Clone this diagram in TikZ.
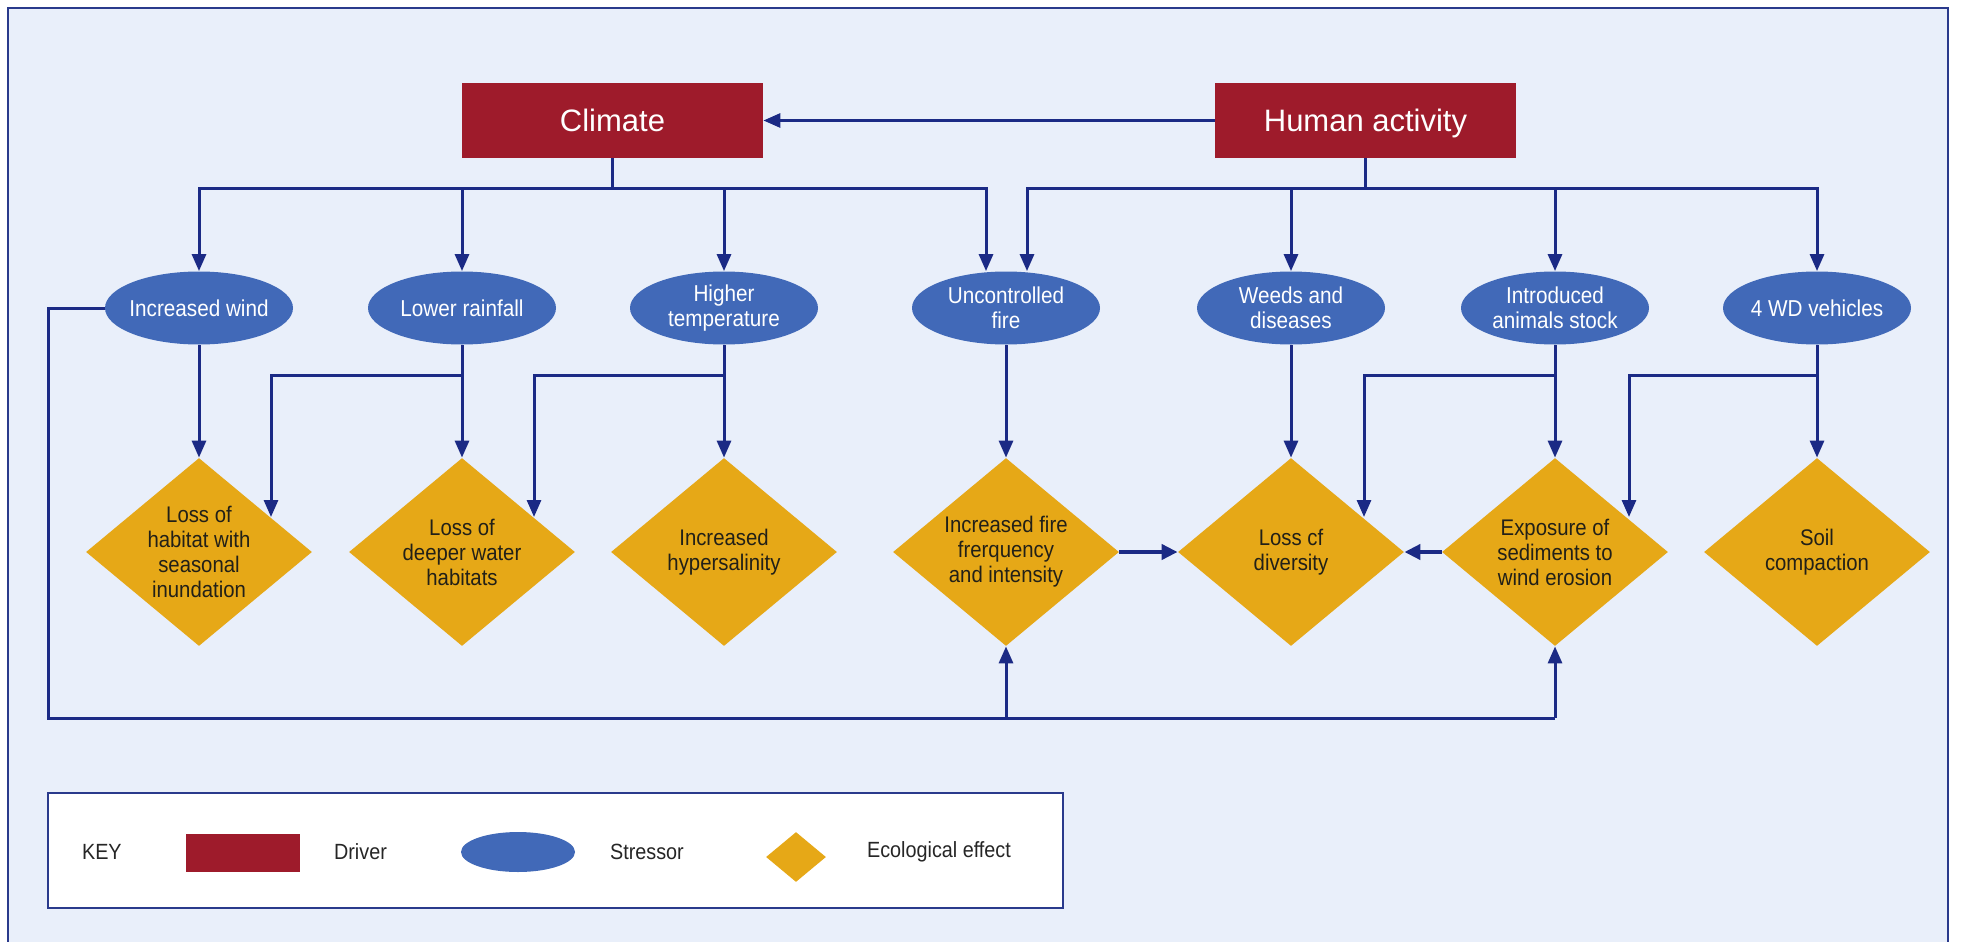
\documentclass[tikz,border=0pt]{standalone}
\usepackage{fontspec}
\setmainfont{Liberation Sans}
\newfontfamily\condfont[FakeStretch=0.9]{Liberation Sans}
\usetikzlibrary{shapes.geometric,arrows.meta}
\definecolor{bgblue}{HTML}{E9EFFA}
\definecolor{navy}{HTML}{1B2A85}
\definecolor{framec}{HTML}{2A3A8C}
\definecolor{drvred}{HTML}{9E1B2B}
\definecolor{strblue}{HTML}{4169B8}
\definecolor{effgold}{HTML}{E6A817}
\definecolor{efftxt}{HTML}{222018}
\tikzset{
  driver/.style={rectangle, fill=drvred, minimum width=150.5pt, minimum height=37.5pt, inner sep=0pt, text=white, text height=11pt, text depth=0pt, font=\fontsize{15.5pt}{18pt}\selectfont},
  stressor/.style={ellipse, fill=strblue, minimum width=94pt, minimum height=36.5pt, inner sep=0pt},
  strtext/.style={text=white, align=center, font=\condfont\fontsize{11.5pt}{12.5pt}\selectfont},
  effect/.style={diamond, fill=effgold, minimum width=113pt, minimum height=94pt, inner sep=0pt},
  efftext/.style={text=efftxt, align=center, font=\condfont\fontsize{11.3pt}{12.5pt}\selectfont},
  conn/.style={draw=navy, line width=1.5pt, -{Triangle[length=8.5pt,width=7pt]}},
  line/.style={draw=navy, line width=1.5pt},
  thickconn/.style={draw=navy, line width=2.3pt, -{Triangle[length=8pt,width=7.5pt]}},
  keytext/.style={anchor=west, text=black!85, font=\condfont\fontsize{11pt}{12pt}\selectfont}
}
\begin{document}
\begin{tikzpicture}[x=0.5pt, y=-0.5pt]
\useasboundingbox (0,0) rectangle (1970,942);
\fill[white] (0,0) rectangle (1970,942);
\draw[draw=framec, line width=1.2pt, fill=bgblue] (8,8) rectangle (1948,990);

% drivers
\node[driver] (climate) at (612.5,120.5) {Climate};
\node[driver] (human) at (1365.5,120.5) {Human activity};

% stressors
\node[stressor] (wind) at (199,308) {};
\node[strtext] at (wind) {Increased wind};
\node[stressor] (rain) at (462,308) {};
\node[strtext] at (rain) {Lower rainfall};
\node[stressor] (temp) at (724,308) {};
\node[strtext] at (temp) {Higher\\temperature};
\node[stressor] (fire) at (1006,308) {};
\node[strtext] at (fire) {Uncontrolled\\fire};
\node[stressor] (weeds) at (1291,308) {};
\node[strtext] at (weeds) {Weeds and\\diseases};
\node[stressor] (animals) at (1555,308) {};
\node[strtext] at (animals) {Introduced\\animals stock};
\node[stressor] (wd) at (1817,308) {};
\node[strtext] at (wd) {4 WD vehicles};

% effects
\node[effect] (habitat) at (199,552) {};
\node[efftext] at (habitat) {Loss of\\habitat with\\seasonal\\inundation};
\node[effect] (deeper) at (462,552) {};
\node[efftext] at (deeper) {Loss of\\deeper water\\habitats};
\node[effect] (saline) at (724,552) {};
\node[efftext] at (saline) {Increased\\hypersalinity};
\node[effect] (firefreq) at (1006,552) {};
\node[efftext] at (firefreq) {Increased fire\\frerquency\\and intensity};
\node[effect] (divers) at (1291,552) {};
\node[efftext] at (divers) {Loss cf\\diversity};
\node[effect] (expo) at (1555,552) {};
\node[efftext] at (expo) {Exposure of\\sediments to\\wind erosion};
\node[effect] (soil) at (1817,552) {};
\node[efftext] at (soil) {Soil\\compaction};

% junction coordinates
\coordinate (cj) at (612.5,188);
\coordinate (hj) at (1365.5,188);

% human -> climate
\draw[conn] (human.west) -- (climate.east);

% climate branch
\draw[line] (climate.south) -- (cj);
\draw[conn] (cj) -| (wind.north);
\draw[conn] (cj) -| (rain.north);
\draw[conn] (cj) -| (temp.north);
\draw[conn] (cj) -| ([xshift=-10pt]fire.north);

% human branch
\draw[line] (human.south) -- (hj);
\draw[conn] (hj) -| ([xshift=10.5pt]fire.north);
\draw[conn] (hj) -| (weeds.north);
\draw[conn] (hj) -| (animals.north);
\draw[conn] (hj) -| (wd.north);

% stressor -> effect
\draw[conn] (wind.south) -- (habitat.north);
\draw[conn] (rain.south) -- (deeper.north);
\draw[conn] (temp.south) -- (saline.north);
\draw[conn] (fire.south) -- (firefreq.north);
\draw[conn] (weeds.south) -- (divers.north);
\draw[conn] (animals.south) -- (expo.north);
\draw[conn] (wd.south) -- (soil.north);

% secondary links
\coordinate (r1) at (462,375);
\coordinate (r2) at (271,375);
\draw[conn] (r1) -- (r2) -- (271,517);
\coordinate (t1) at (724,375);
\coordinate (t2) at (534,375);
\draw[conn] (t1) -- (t2) -- (534,517);
\coordinate (a1) at (1555,375);
\coordinate (a2) at (1364,375);
\draw[conn] (a1) -- (a2) -- (1364,517);
\coordinate (w1) at (1817,375);
\coordinate (w2) at (1629,375);
\draw[conn] (w1) -- (w2) -- (1629,517);

% wind loop
\coordinate (wl) at (48,308);
\coordinate (wb) at (48,718);
\coordinate (fb) at (1006,718);
\coordinate (eb) at (1555,718);
\draw[line] (wind.west) -- (wl) -- (wb) -- (eb);
\draw[conn] (fb) -- (firefreq.south);
\draw[conn] (eb) -- (expo.south);

% horizontal arrows into loss of diversity
\draw[thickconn] (firefreq.east) -- (divers.west);
\draw[thickconn] (expo.west) -- (divers.east);

% key
\draw[draw=framec, line width=1.2pt, fill=white] (48,793) rectangle (1063,908);
\node[keytext] (key) at (75,852) {KEY};
\node[rectangle, fill=drvred, minimum width=57pt, minimum height=19pt, inner sep=0pt] (kd) at (243,853) {};
\node[keytext] (kdt) at (327,852) {Driver};
\node[ellipse, fill=strblue, minimum width=57pt, minimum height=20pt, inner sep=0pt] (ks) at (518,852) {};
\node[keytext] (kst) at (603,852) {Stressor};
\node[diamond, fill=effgold, minimum width=30pt, minimum height=25pt, inner sep=0pt] (ke) at (796,857) {};
\node[keytext] (ket) at (860,852) {Ecological effect};
\end{tikzpicture}
\end{document}
